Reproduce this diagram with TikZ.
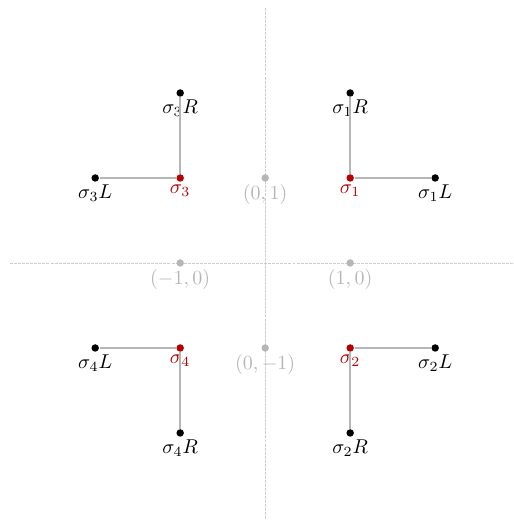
\documentclass[tikz,border=0pt]{standalone}
\definecolor{sred}{RGB}{180,0,0}
\definecolor{lgray}{RGB}{182,182,182}
\definecolor{agray}{RGB}{205,205,205}
\begin{document}
\begin{tikzpicture}[x=1cm,y=1cm,
  every label/.style={inner sep=0.9pt,scale=0.67},
  label distance=0pt,
  dot/.style={circle,inner sep=0pt,minimum size=2.5pt,fill=black},
  sdot/.style={dot,fill=sred,label={[text=sred]below:#1}},
  bdot/.style={dot,label={below:#1}},
  gdot/.style={dot,fill=lgray,label={[text=lgray]below:#1}},
  conn/.style={draw=lgray,line width=0.7pt},
  axis/.style={draw=agray,line width=0.3pt,dash pattern=on 1pt off 0.35pt}]
\useasboundingbox (-3.12,-3.024) rectangle (2.918,3.094);
% axes
\coordinate (xl) at (-3,0);
\coordinate (xr) at (2.918,0);
\coordinate (yt) at (0,3);
\coordinate (yb) at (0,-3.024);
\draw[axis] (xl) -- (xr);
\draw[axis] (yt) -- (yb);
% grey reference points
\node[gdot={$(0,1)$}] (p01) at (0,1) {};
\node[gdot={$(0,-1)$}] (p0m1) at (0,-1) {};
\node[gdot={$(1,0)$}] (p10) at (1,0) {};
\node[gdot={$(-1,0)$}] (pm10) at (-1,0) {};
% sigma points
\node[sdot={$\sigma_1$}] (s1) at (1,1) {};
\node[sdot={$\sigma_2$}] (s2) at (1,-1) {};
\node[sdot={$\sigma_3$}] (s3) at (-1,1) {};
\node[sdot={$\sigma_4$}] (s4) at (-1,-1) {};
% L and R points
\node[bdot={$\sigma_1R$}] (s1R) at (1,2) {};
\node[bdot={$\sigma_1L$}] (s1L) at (2,1) {};
\node[bdot={$\sigma_2L$}] (s2L) at (2,-1) {};
\node[bdot={$\sigma_2R$}] (s2R) at (1,-2) {};
\node[bdot={$\sigma_3R$}] (s3R) at (-1,2) {};
\node[bdot={$\sigma_3L$}] (s3L) at (-2,1) {};
\node[bdot={$\sigma_4L$}] (s4L) at (-2,-1) {};
\node[bdot={$\sigma_4R$}] (s4R) at (-1,-2) {};
% connectors
\draw[conn] (s1) -- (s1R);
\draw[conn] (s1) -- (s1L);
\draw[conn] (s2) -- (s2L);
\draw[conn] (s2) -- (s2R);
\draw[conn] (s3) -- (s3R);
\draw[conn] (s3) -- (s3L);
\draw[conn] (s4) -- (s4L);
\draw[conn] (s4) -- (s4R);
\end{tikzpicture}
\end{document}
